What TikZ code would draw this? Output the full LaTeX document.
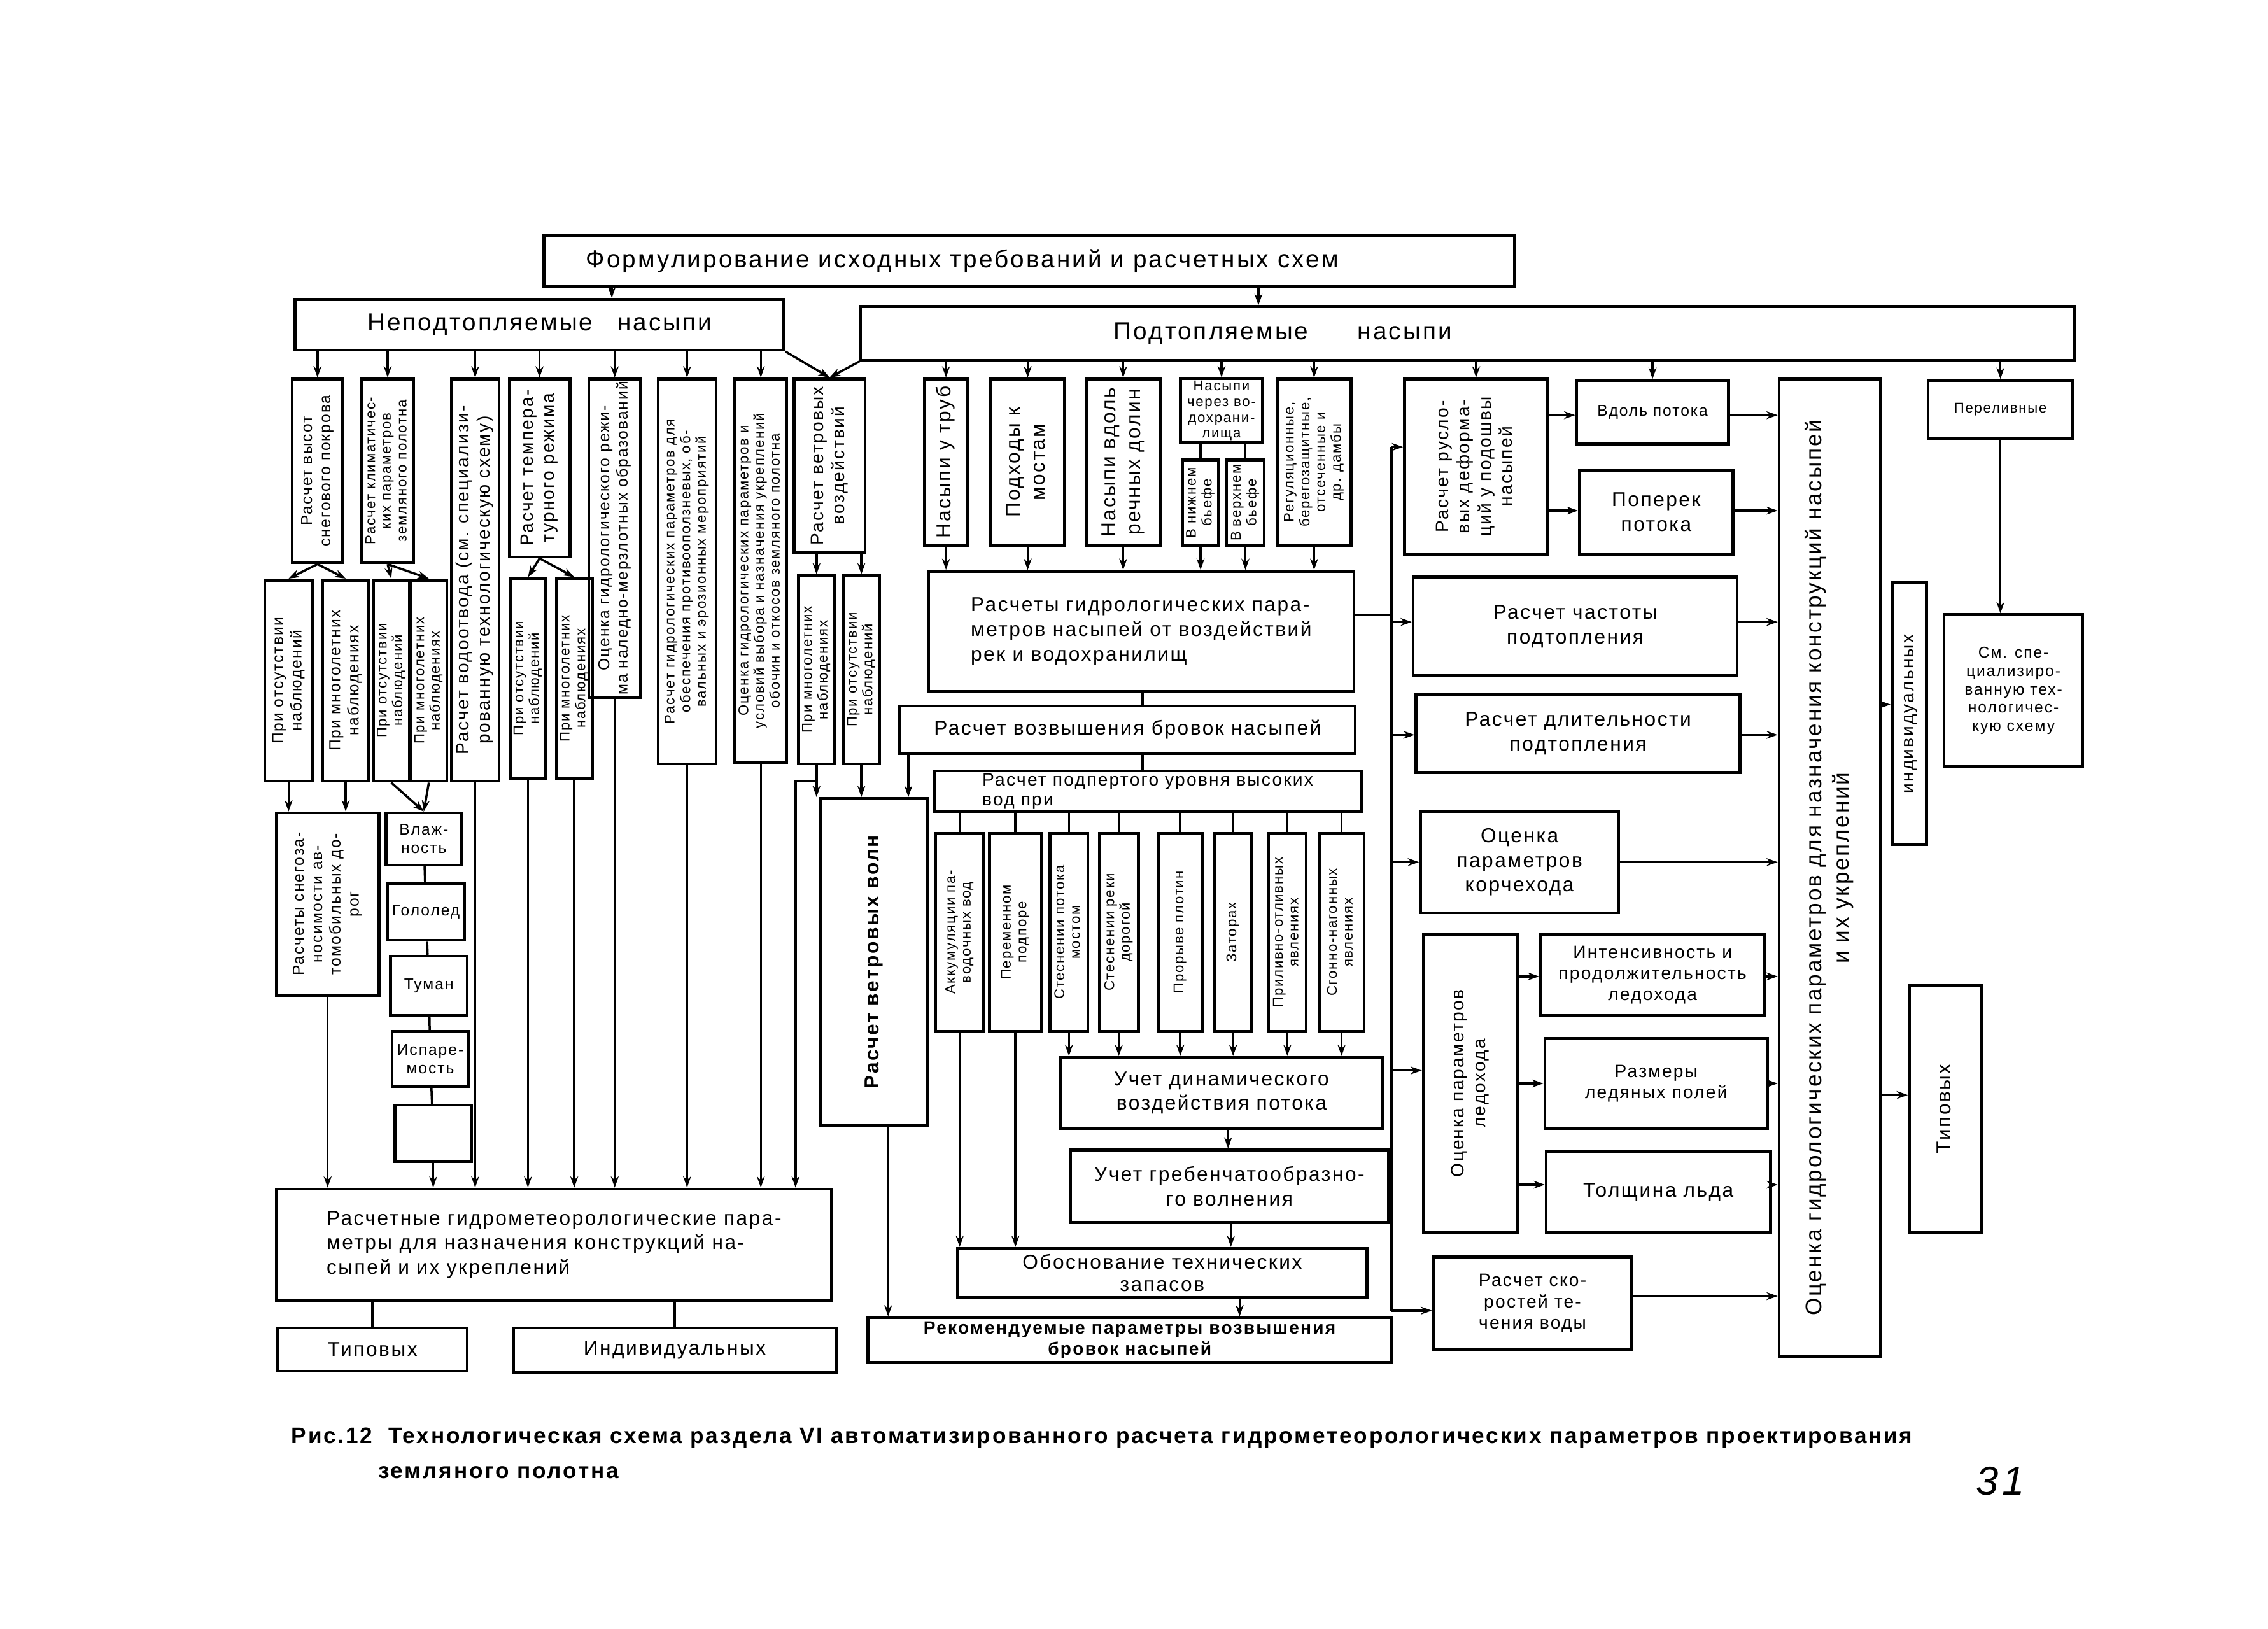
\documentclass[tikz,border=0pt]{standalone}
\usepackage{fontspec}
\setmainfont{Liberation Sans}[LetterSpace=8]
\usepackage{graphicx}
\usetikzlibrary{arrows.meta}

\newcommand\pxu{0.022724cm}
\newcommand\fxs{\fontsize{6.3}{7}\selectfont}
\newcommand\fsm{\fontsize{7}{8.2}\selectfont}
\newcommand\fmd{\fontsize{8}{9.5}\selectfont}
\newcommand\fnm{\fontsize{9}{11}\selectfont}
\newcommand\flg{\fontsize{11}{13}\selectfont}

% box given by its corners: [options]{name}{x1}{y1}{x2}{y2}{text}
\newcommand{\bxh}[7][]{\node[blk,minimum width={(#5-#3)*\pxu},minimum height={(#6-#4)*\pxu},#1] (#2) at ({(#3+#5)/2},{(#4+#6)/2}) {#7};}
% same, text turned upright
\newcommand{\bxv}[7][]{\node[blk,minimum width={(#5-#3)*\pxu},minimum height={(#6-#4)*\pxu},#1] (#2) at ({(#3+#5)/2},{(#4+#6)/2}) {\rotatebox{90}{\begin{tabular}{@{}c@{}}#7\end{tabular}}};}

\tikzset{
  blk/.style={draw, line width=1.3pt, align=center, inner sep=1pt, font=\fmd},
  arr/.style={line width=1pt, -{Stealth[length=5pt,width=3.5pt]}},
  ln/.style={line width=1pt},
}

\begin{document}
\begin{tikzpicture}[x=0.022724cm, y=-0.022724cm]
\useasboundingbox (0,0) rectangle (1568,1126);

% top
\bxh[font=\flg]{top}{376}{163}{1047}{198}{Формулирование исходных требований и расчетных схем\hspace*{2.1cm}}
\bxh[font=\flg]{leftgrp}{204}{207}{542}{242}{Неподтопляемые\quad насыпи}
\bxh[font=\flg]{rightgrp}{595}{212}{1434}{249}{Подтопляемые\qquad насыпи\hspace*{5.8cm}}

% left half
\bxv[font=\fsm]{b1}{202}{262}{237}{389}{Расчет высот\\снегового покрова}
\bxv[font=\fxs]{b2}{250}{262}{286}{389}{Расчет климатичес-\\ких параметров\\земляного полотна}
\bxv[font=\fmd]{b3}{312}{262}{345}{540}{Расчет водоотвода (см. специализи-\\рованную технологическую схему)}
\bxv[font=\fmd]{b4}{352}{262}{394}{385}{Расчет темпера-\\турного режима}
\bxv[font=\fsm]{b5}{407}{262}{443}{482}{Оценка гидрологического режи-\\ма наледно-мерзлотных образований}
\bxv[font=\fxs]{b6}{455}{262}{495}{528}{Расчет гидрологических параметров для\\обеспечения противооползневых, об-\\вальных и эрозионных мероприятий}
\bxv[font=\fxs]{b7}{508}{262}{544}{527}{Оценка гидрологических параметров и\\условий выбора и назначения укреплений\\обочин и откосов земляного полотна}
\bxv[font=\fmd]{b8}{549}{262}{598}{382}{Расчет ветровых\\воздействий}

\bxv[font=\fsm]{b1a}{183}{401}{216}{540}{При отсутствии\\наблюдений}
\bxv[font=\fsm]{b1b}{223}{401}{255}{540}{При многолетних\\наблюдениях}
\bxv[font=\fxs]{b2a}{259}{401}{282}{540}{При отсутствии\\наблюдений}
\bxv[font=\fxs]{b2b}{285}{401}{308}{540}{При многолетних\\наблюдениях}
\bxv[font=\fxs]{b4a}{353}{400}{377}{538}{При отсутствии\\наблюдений}
\bxv[font=\fxs]{b4b}{385}{400}{409}{538}{При многолетних\\наблюдениях}
\bxv[font=\fxs]{b8a}{553}{398}{576}{528}{При многолетних\\наблюдениях}
\bxv[font=\fxs]{b8b}{584}{398}{607}{528}{При отсутствии\\наблюдений}

\bxv[font=\fsm]{snow}{191}{562}{262}{688}{Расчеты снегоза-\\носимости ав-\\томобильных до-\\рог}
\bxh[font=\fsm]{vlazh}{267}{562}{319}{598}{Влаж-\\ность}
\bxh[font=\fsm]{gol}{268}{611}{321}{650}{Гололед}
\bxh[font=\fsm]{tuman}{270}{661}{323}{702}{Туман}
\bxh[font=\fsm]{ispar}{271}{713}{324}{751}{Испаре-\\мость}
\bxh{empty}{273}{764}{326}{803}{}

\bxh[font=\fnm, align=left]{big}{191}{822}{575}{899}{Расчетные гидрометеорологические пара-\\метры для назначения конструкций на-\\сыпей и их укреплений}
\bxh[font=\fnm]{tipL}{192}{918}{323}{948}{Типовых}
\bxh[font=\fnm]{indL}{355}{918}{578}{949}{Индивидуальных}

\bxv[font=\fnm\bfseries]{wwave}{567}{552}{641}{778}{Расчет ветровых волн}
\bxh[font=\fmd\bfseries]{rekom}{600}{911}{962}{942}{Рекомендуемые параметры возвышения\\бровок насыпей}

% right half
\bxv[font=\fnm]{r1}{639}{262}{669}{377}{Насыпи у труб}
\bxv[font=\fnm]{r2}{685}{262}{736}{377}{Подходы к\\мостам}
\bxv[font=\fnm]{r3}{751}{262}{802}{377}{Насыпи вдоль\\речных долин}
\bxh[font=\fxs]{r4}{816}{262}{873}{306}{Насыпи\\через во-\\дохрани-\\лища}
\bxv[font=\fxs]{r4a}{818}{318}{842}{377}{В нижнем\\бьефе}
\bxv[font=\fxs]{r4b}{848}{318}{874}{377}{В верхнем\\бьефе}
\bxv[font=\fxs]{r5}{883}{262}{934}{377}{Регуляционные,\\берегозащитные,\\отсеченные и\\др. дамбы}

\bxh[font=\fnm, align=left]{gidro}{642}{395}{936}{478}{Расчеты гидрологических пара-\\метров насыпей от воздействий\\рек и водохранилищ}
\bxh[font=\fnm]{vozv}{622}{488}{937}{521}{Расчет возвышения бровок насыпей}
\bxh[font=\fontsize{8}{8.8}\selectfont, align=left]{podp}{646}{533}{941}{561}{Расчет подпертого уровня высоких\\вод при}

\bxv[font=\fxs]{c1}{647}{576}{680}{713}{Аккумуляции па-\\водочных вод}
\bxv[font=\fxs]{c2}{684}{576}{720}{713}{Переменном\\подпоре}
\bxv[font=\fxs]{c3}{726}{576}{752}{713}{Стеснении потока\\мостом}
\bxv[font=\fxs]{c4}{760}{576}{787}{713}{Стеснении реки\\дорогой}
\bxv[font=\fxs]{c5}{801}{576}{831}{713}{Прорыве плотин}
\bxv[font=\fxs]{c6}{840}{576}{865}{713}{Заторах}
\bxv[font=\fxs]{c7}{877}{576}{903}{713}{Приливно-отливных\\явлениях}
\bxv[font=\fxs]{c8}{912}{576}{943}{713}{Сгонно-нагонных\\явлениях}

\bxh[font=\fnm]{dyn}{733}{731}{956}{780}{Учет динамического\\воздействия потока}
\bxh[font=\fnm]{greb}{740}{795}{960}{845}{Учет гребенчатообразно-\\го волнения}
\bxh[font=\fontsize{9}{10}\selectfont]{obos}{662}{863}{945}{897}{Обоснование технических\\запасов}

\bxv[font=\fmd]{rusl}{971}{262}{1070}{383}{Расчет русло-\\вых деформа-\\ций у подошвы\\насыпей}
\bxh[font=\fsm]{vdol}{1090}{263}{1195}{307}{Вдоль потока}
\bxh[font=\fnm]{poper}{1092}{325}{1198}{383}{Поперек\\потока}
\bxh[font=\fnm]{chast}{977}{399}{1201}{467}{Расчет частоты\\подтопления}
\bxh[font=\fnm]{dlit}{979}{480}{1203}{534}{Расчет длительности\\подтопления}
\bxh[font=\fnm]{korch}{982}{561}{1119}{631}{Оценка\\параметров\\корчехода}
\bxv[font=\fmd]{ledo}{984}{646}{1049}{852}{Оценка параметров\\ледохода}
\bxh[font=\fmd]{int}{1065}{646}{1220}{702}{Интенсивность и\\продолжительность\\ледохода}
\bxh[font=\fmd]{razm}{1068}{718}{1222}{780}{Размеры\\ледяных полей}
\bxh[font=\fnm]{tol}{1069}{796}{1224}{852}{Толщина льда}
\bxh[font=\fmd]{skor}{991}{869}{1128}{933}{Расчет ско-\\ростей те-\\чения воды}
\bxv[font=\fontsize{10}{12}\selectfont]{bigv}{1230}{262}{1300}{938}{Оценка гидрологических параметров для назначения конструкций насыпей\\и их укреплений}
\bxv[font=\fmd]{indiv}{1308}{403}{1332}{584}{индивидуальных}
\bxv[font=\fnm]{tipR}{1320}{681}{1370}{852}{Типовых}
\bxh[font=\fxs]{perel}{1333}{263}{1433}{303}{Переливные}
\bxh[font=\fsm]{smsp}{1344}{425}{1440}{530}{См. спе-\\циализиро-\\ванную тех-\\нологичес-\\кую схему}

% connectors, top part
\draw[arr] (top.south -| 423,0) -- (leftgrp.north -| 423,0);
\draw[arr] (top.south -| 870,0) -- (rightgrp.north -| 870,0);
\foreach \n in {b1,b2,b3,b4,b5,b6,b7}
  \draw[arr] (leftgrp.south -| \n.north) -- (\n.north);
\draw[arr] (leftgrp.south east) -- (b8.north);
\draw[arr] (rightgrp.south west) -- (b8.north);
\foreach \n in {r1,r2,r3,r4,r5,rusl,vdol,perel}
  \draw[arr] (rightgrp.south -| \n.north) -- (\n.north);

% left half
\foreach \a/\b in {b1/b1a,b1/b1b,b2/b2a,b2/b2b,b4/b4a,b4/b4b}
  \draw[arr] (\a.south) -- (\b.north);
\foreach \n in {b8a,b8b}
  \draw[arr] (b8.south -| \n.north) -- (\n.north);
\foreach \n in {b1a,b1b}
  \draw[arr] (\n.south) -- (snow.north -| \n.south);
\foreach \n in {b2a,b2b}
  \draw[arr] (\n.south) -- (vlazh.north);
\foreach \a/\b in {vlazh/gol,gol/tuman,tuman/ispar,ispar/empty}
  \draw[ln] (\a) -- (\b);
\foreach \n in {snow,empty,b3,b4a,b4b,b5,b6,b7}
  \draw[arr] (\n.south) -- (big.north -| \n.south);
\draw[arr] (b8a.south |- 0,540) -| (big.north -| 550,0);
\foreach \n in {b8a,b8b}
  \draw[arr] (\n.south) -- (wwave.north -| \n.south);
\draw[arr] (vozv.south -| 628,0) -- (wwave.north -| 628,0);
\draw[arr] (wwave.south -| 614,0) -- (rekom.north -| 614,0);
\draw[ln] (big.south -| tipL.north) -- (tipL.north);
\draw[ln] (big.south -| indL.north) -- (indL.north);

% right half
\foreach \n in {r1,r2,r3,r5,r4a,r4b}
  \draw[arr] (\n.south) -- (gidro.north -| \n.south);
\foreach \n in {r4a,r4b}
  \draw[ln] (r4.south -| \n.north) -- (\n.north);
\draw[ln] (gidro.south -| 790,0) -- (vozv.north -| 790,0);
\draw[ln] (vozv.south -| 790,0) -- (podp.north -| 790,0);
\foreach \n in {c1,c2,c3,c4,c5,c6,c7,c8}
  \draw[ln] (podp.south -| \n.north) -- (\n.north);
\foreach \n in {c1,c2}
  \draw[arr] (\n.south) -- (obos.north -| \n.south);
\foreach \n in {c3,c4,c5,c6,c7,c8}
  \draw[arr] (\n.south) -- (dyn.north -| \n.south);
\draw[arr] (dyn.south -| 849,0) -- (greb.north -| 849,0);
\draw[arr] (greb.south -| 851,0) -- (obos.north -| 851,0);
\draw[arr] (obos.south -| 857,0) -- (rekom.north -| 857,0);

\coordinate (busT) at (962,309);
\coordinate (busB) at (962,906);
\draw[ln] (gidro.east |- 0,425) -- (busT |- 0,425);
\draw[ln] (busT) -- (busB);
\draw[arr] (busT) -- (busT -| rusl.west);
\foreach \n/\y in {chast/430,dlit/508,korch/596,ledo/740,skor/906}
  \draw[arr] (busT |- 0,\y) -- (\n.west |- 0,\y);
\draw[arr] (rusl.east |- 0,287) -- (vdol.west |- 0,287);
\draw[arr] (rusl.east |- 0,353) -- (poper.west |- 0,353);
\foreach \n/\y in {int/675,razm/749,tol/819}
  \draw[arr] (ledo.east |- 0,\y) -- (\n.west |- 0,\y);
\foreach \n/\y in {vdol/287,poper/353,chast/430,dlit/508,korch/596,int/675,razm/749,tol/819,skor/896}
  \draw[arr] (\n.east |- 0,\y) -- (bigv.west |- 0,\y);
\draw[arr] (bigv.east |- 0,487) -- (indiv.west |- 0,487);
\draw[arr] (bigv.east |- 0,757) -- (tipR.west |- 0,757);
\draw[arr] (perel.south) -- (smsp.north -| perel.south);

% caption
\node[anchor=west, font=\fontsize{10}{12}\selectfont\bfseries] (cap) at (196,994) {Рис.12\ \ Технологическая схема раздела VI автоматизированного расчета гидрометеорологических параметров проектирования};
\node[anchor=west, font=\fontsize{10}{12}\selectfont\bfseries] (cap2) at (256,1018) {земляного полотна};
\node[font=\fontsize{18}{20}\selectfont\itshape] (pnum) at (1383,1024) {31};
\end{tikzpicture}
\end{document}
